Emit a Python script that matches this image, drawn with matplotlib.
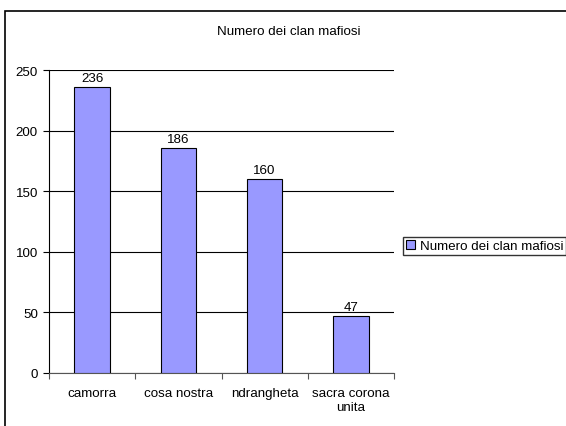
import matplotlib.pyplot as plt
from matplotlib.patches import Rectangle

categories = ["camorra", "cosa nostra", "ndrangheta", "sacra corona\nunita"]
values = [236, 186, 160, 47]
series_name = "Numero dei clan mafiosi"
yticks = [0, 50, 100, 150, 200, 250]

W, H = 566, 427
fs = 9.6
fig = plt.figure(figsize=(W / 100, H / 100), dpi=100)
plt.rcParams['font.family'] = ['Liberation Sans', 'DejaVu Sans']

# outer chart border (only top and left visible in the original)
fig.add_artist(Rectangle((4.5 / W, -0.1), 1.2, (H - 11.5) / H + 0.1,
                         transform=fig.transFigure, fill=False,
                         edgecolor='black', linewidth=1.2))

ax = fig.add_axes([49 / W, (H - 374) / H, (394 - 49) / W, (374 - 71) / H])
x = list(range(len(categories)))
bars = ax.bar(x, values, width=0.41, color='#9999ff', edgecolor='black',
              linewidth=0.8, label=series_name, zorder=3)
for xi, v in zip(x, values):
    ax.text(xi, v + 2.5, str(v), ha='center', va='bottom', fontsize=fs)

ax.set_xlim(-0.5, len(categories) - 0.5)
ax.set_ylim(0, 250)
ax.set_yticks(yticks)
ax.yaxis.grid(True, color='black', linewidth=0.8)
ax.set_axisbelow(True)

ax.set_xticks([i + 0.5 for i in range(-1, len(categories))], minor=False)
ax.set_xticklabels([])
ax.set_xticks(x, minor=True)
ax.set_xticklabels(categories, minor=True, fontsize=fs)
ax.tick_params(axis='x', which='minor', length=0, pad=10)
ax.tick_params(axis='x', which='major', length=4, color='#555555')
ax.tick_params(axis='y', length=4, labelsize=fs, pad=4)

for s in ['top', 'right']:
    ax.spines[s].set_visible(False)
ax.spines['bottom'].set_color('#555555')
ax.spines['left'].set_color('black')

fig.text(289 / W, 1 - 32 / H, series_name, ha='center', va='center', fontsize=fs)

fig.legend(handles=[bars], labels=[series_name], loc='center left',
           bbox_to_anchor=(403 / W, 1 - 247 / H), fontsize=fs,
           frameon=True, fancybox=False, edgecolor='black',
           handlelength=0.7, handleheight=0.7, handletextpad=0.35,
           borderpad=0.2, borderaxespad=0)

fig.savefig("out.png", dpi=100)
